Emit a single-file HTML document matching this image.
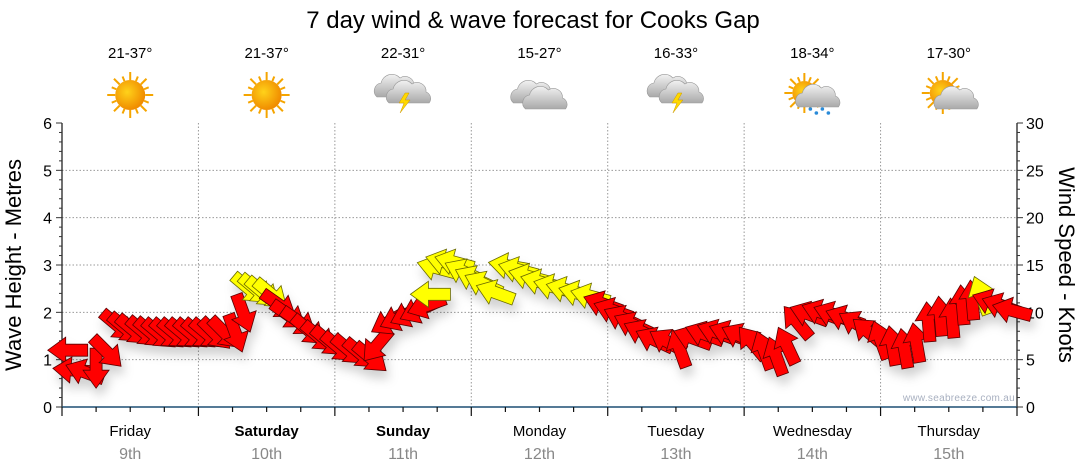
<!DOCTYPE html>
<html><head><meta charset="utf-8">
<style>
html,body{margin:0;padding:0;background:#fff;}
svg{display:block;font-family:"Liberation Sans",Arial,sans-serif;}
</style></head>
<body>
<svg id="chart" width="1080" height="475" viewBox="0 0 1080 475" xmlns="http://www.w3.org/2000/svg">
<defs>
<filter id="sh" x="-50%" y="-50%" width="200%" height="200%"><feDropShadow dx="3" dy="8" stdDeviation="5" flood-color="#000" flood-opacity="0.18"/></filter>
<radialGradient id="sunG" cx="40%" cy="40%" r="60%"><stop offset="0" stop-color="#ffd21a"/><stop offset="1" stop-color="#f08c00"/></radialGradient>
<linearGradient id="cloudG" x1="0" y1="0" x2="0" y2="1"><stop offset="0" stop-color="#f2f2f2"/><stop offset="1" stop-color="#a9a9a9"/></linearGradient>
</defs>
<text x="533" y="28" text-anchor="middle" font-size="24" fill="#000">7 day wind &amp; wave forecast for Cooks Gap</text>
<g id="header"></g>
<g id="grid"></g>
<g id="axes"></g>
<g id="marks" filter="url(#sh)"></g>
<text x="1015" y="401" text-anchor="end" font-size="10" fill="#a8b0c0" letter-spacing="0.3">www.seabreeze.com.au</text>
<text transform="translate(21,265) rotate(-90)" text-anchor="middle" font-size="22" fill="#000">Wave Height - Metres</text>
<text transform="translate(1059,265) rotate(90)" text-anchor="middle" font-size="22" fill="#000">Wind Speed - Knots</text>
</svg>
<script>
const days = ["Friday","Saturday","Sunday","Monday","Tuesday","Wednesday","Thursday"];
const dates = ["9th","10th","11th","12th","13th","14th","15th"];
const boldDays = [false,true,true,false,false,false,false];
const temps = ["21-37°","21-37°","22-31°","15-27°","16-33°","18-34°","17-30°"];
const icons = ["sun","sun","storm","cloud","storm","rain","partly"];
const waveTicks = [0,1,2,3,4,5,6];
const windTicks = [0,5,10,15,20,25,30];
const hours = [1.0,1.9,4.0,6.0,7.9,9.8,11.2,12.6,14.4,15.8,17.2,18.6,20.0,21.4,22.8,24.2,25.6,27.0,28.7,30.5,31.9,32.9,34.2,35.4,36.8,38.2,39.9,41.7,43.4,45.2,46.9,48.7,50.5,52.6,54.3,55.4,57.5,59.2,61.0,62.7,64.1,64.8,65.9,67.4,69.0,70.6,72.4,74.1,76.2,78.5,80.2,82.0,84.1,86.4,88.6,90.8,92.9,95.1,96.9,98.6,100.4,102.1,104.2,106.5,108.6,110.9,113.0,115.1,117.2,119.3,121.4,123.5,125.6,127.5,129.3,131.4,133.5,135.6,137.7,139.8,141.9,144.0,146.1,148.2,150.3,152.4,154.5,156.6,158.4,160.1,161.7,163.5,165.2,167.1];
const knots = [6.0,3.9,3.7,4.1,5.8,8.6,8.3,8.1,7.9,7.8,7.7,7.7,7.7,7.7,7.7,7.7,7.7,7.7,7.8,7.8,9.9,12.5,12.4,12.1,11.9,10.8,9.7,9.0,8.1,7.4,6.9,6.3,6.0,5.6,5.2,6.5,9.0,9.4,9.8,10.2,10.7,11.9,14.7,15.3,15.3,14.3,13.6,13.0,12.1,14.9,14.5,13.8,13.2,12.7,12.4,12.0,11.7,10.9,10.2,9.4,8.7,7.9,7.1,6.9,6.2,7.3,7.7,7.9,7.8,7.5,6.8,6.0,5.4,6.5,9.0,9.8,10.0,9.8,9.4,8.8,7.9,7.1,6.5,6.2,6.8,9.0,9.6,9.4,10.8,11.3,11.8,11.1,10.7,10.2];
const dirs = [180,185,200,90,45,40,40,40,40,40,40,40,40,40,40,40,40,45,45,70,70,40,40,40,40,35,35,35,40,40,40,40,40,40,40,130,150,155,155,155,160,180,195,195,195,205,205,205,200,190,195,195,195,195,195,195,195,200,200,205,205,205,205,210,250,200,200,200,200,205,230,250,250,245,230,200,200,200,200,210,220,250,260,260,260,265,265,265,265,265,250,200,200,195];
const colorCodes = "rrrrrrrrrrrrrrrrrrrrryyyyrrrrrrrrrrrrrrrryyyyyyyyyyyyyyyyrrrrrrrrrrrrrrrrrrrrrrrrrrrrrrrrryrrr";

const NS="http://www.w3.org/2000/svg";
const X0=62, X1=1017, YB=407, YT=123;
const xH = h => X0 + h*(X1-X0)/168;
const yK = k => YB - k*(YB-YT)/30;
const yM = m => YB - m*(YB-YT)/6;
function mk(tag, attrs, parent){const e=document.createElementNS(NS,tag);for(const k in attrs)e.setAttribute(k,attrs[k]);parent.appendChild(e);return e;}
const grid=document.getElementById('grid'), axes=document.getElementById('axes'), marks=document.getElementById('marks'), header=document.getElementById('header');

for(let i=1;i<=5;i++){
  const l=mk('line',{x1:X0,x2:X1,y1:yM(i),y2:yM(i),stroke:'#999','stroke-width':1,'stroke-dasharray':'1.5,2'},grid);
  
  
}
for(let d=1;d<7;d++){
  const x=xH(d*24);
  const l=mk('line',{x1:x,x2:x,y1:YT,y2:YB,stroke:'#999','stroke-width':1,'stroke-dasharray':'1.5,2'},grid);
  
  
}
mk('line',{x1:X0,x2:X0,y1:YT,y2:YB,stroke:'#222','stroke-width':1.3},axes);
mk('line',{x1:X1,x2:X1,y1:YT,y2:YB,stroke:'#222','stroke-width':1.3},axes);
for(let i=0;i<=30;i++){
  const y=yM(i/5);
  mk('line',{x1:X0-(i%5?3:6),x2:X0,y1:y,y2:y,stroke:'#333','stroke-width':1},axes);
  const y2=yK(i);
  mk('line',{x1:X1,x2:X1+(i%5?3:6),y1:y2,y2:y2,stroke:'#333','stroke-width':1},axes);
}
waveTicks.forEach(v=>{
  const t=mk('text',{x:X0-10,y:yM(v)+6,'text-anchor':'end','font-size':16,fill:'#000'},axes);
  t.textContent=v;
  
  
});
windTicks.forEach(v=>{
  const t=mk('text',{x:X1+9,y:yK(v)+6,'text-anchor':'start','font-size':16,fill:'#000'},axes);
  t.textContent=v;
  
  
});
mk('line',{x1:X0,x2:X1,y1:YB,y2:YB,stroke:'#1d4f73','stroke-width':1.5},axes);
for(let i=0;i<=28;i++){
  const x=xH(i*6);
  mk('line',{x1:x,x2:x,y1:YB,y2:YB+(i%4?5:9),stroke:'#111','stroke-width':1.2},axes);
}
days.forEach((d,i)=>{
  const cx=xH(i*24+12);
  const t=mk('text',{x:cx,y:436,'text-anchor':'middle','font-size':15,fill:'#000','font-weight':boldDays[i]?'bold':'normal'},axes);
  t.textContent=d;
  
  
  const t2=mk('text',{x:cx,y:459,'text-anchor':'middle','font-size':16,fill:'#888'},axes);
  t2.textContent=dates[i];
  
  
  const t3=mk('text',{x:cx,y:58,'text-anchor':'middle','font-size':15,fill:'#000'},header);
  t3.textContent=temps[i];
  
  
  const g=mk('g',{transform:`translate(${cx},95)`},header);
  
  
  drawIcon(g,icons[i]);
});
function sun(g,cx,cy,r){
  for(let a=0;a<360;a+=22.5){
    const rad=a*Math.PI/180, r2=r+(a%45?5:8);
    mk('line',{x1:cx+Math.cos(rad)*r,y1:cy+Math.sin(rad)*r,x2:cx+Math.cos(rad)*r2,y2:cy+Math.sin(rad)*r2,stroke:'#f5a500','stroke-width':2},g);
  }
  mk('circle',{cx:cx,cy:cy,r:r,fill:'url(#sunG)'},g);
}
function cloud(g,dx,dy,s){
  mk('path',{d:`M${dx-20*s},${dy+8*s} a8,8 0 0 1 4,-14 a11,11 0 0 1 19,-5 a9,9 0 0 1 14,8 a7,7 0 0 1 3,11 z`,fill:'url(#cloudG)',stroke:'#999','stroke-width':0.6},g);
}
function bolt(g,dx,dy){mk('path',{d:`M${dx},${dy} l-6,10 h5 l-4,10 l10,-13 h-5 l4,-7 z`,fill:'#ffd800',stroke:'#c90','stroke-width':0.5},g);}
function drawIcon(g,k){
  if(k==='sun'){sun(g,0,0,15);}
  else if(k==='cloud'){cloud(g,-6,0,1);cloud(g,6,6,1);}
  else if(k==='storm'){cloud(g,-6,-6,1);cloud(g,6,0,1);bolt(g,2,-2);}
  else if(k==='rain'){sun(g,-8,-2,12);cloud(g,6,4,1);for(let i=0;i<4;i++)mk('circle',{cx:-2+i*6,cy:14+(i%2)*4,r:1.8,fill:'#2a8bd9'},g);}
  else if(k==='partly'){sun(g,-6,-2,13);cloud(g,8,6,1);}
}
hours.forEach((h,i)=>{
  const cx=xH(h), cy=yK(knots[i]);
  const col=colorCodes[i]==='y'?'#ffff00':'#ff0000';
  const p=mk('path',{d:'M20,0 L2,-13 L2,-6 L-20,-6 L-20,6 L2,6 L2,13 Z',fill:col,stroke:colorCodes[i]==='y'?'#6a6a00':'#5a0000','stroke-width':0.8,'stroke-linejoin':'miter',transform:`translate(${cx.toFixed(1)},${cy.toFixed(1)}) rotate(${dirs[i]})`},marks);
  
  
});
</script>
</body></html>
